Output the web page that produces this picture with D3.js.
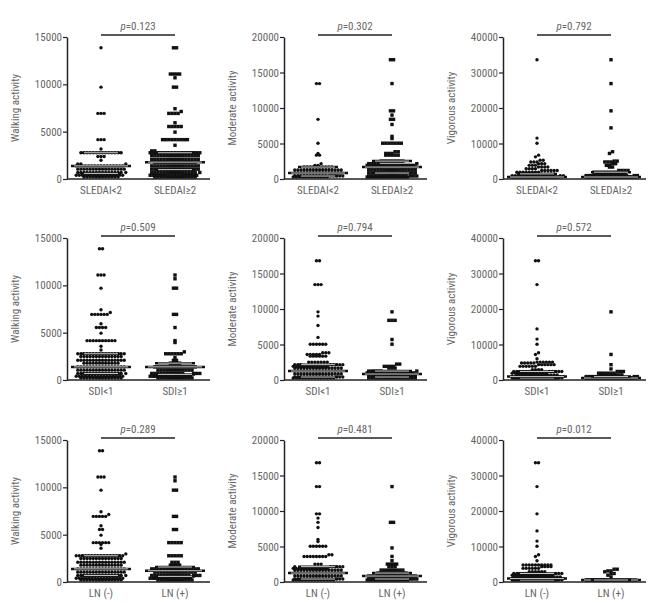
<!DOCTYPE html>
<html>
<head>
<meta charset="utf-8">
<script src="https://cdn.jsdelivr.net/npm/d3@7"></script>
<style>
    body { margin: 0; background: #fff; }
    text { font-family: "Liberation Sans Narrow", "Roboto Condensed", "DejaVu Sans Condensed", sans-serif; font-stretch: condensed; }
</style>
</head>
<body>
<svg id="chart" width="654" height="603"></svg>
<script>
// values as [value, number of dots at that level]
const walkSledaiLow = [[13860,1],[9702,1],[6930,3],[4158,3],[3168,1],[2772,14],[2376,3],[1980,1],[1584,3],[1386,16],[1040,16],[693,16],[396,16],[200,12]];
const walkSledaiHigh = [[13860,2],[11088,4],[10692,1],[9702,2],[7425,1],[7128,1],[6930,4],[5940,1],[5544,5],[4950,1],[4158,9],[3564,1],[2970,2],[2772,17],[2475,16],[2079,16],[1782,14],[1386,16],[1040,16],[693,16],[396,16],[200,14]];
const modSledaiLow = [[13440,2],[8400,1],[5040,1],[3600,1],[3360,2],[2160,1],[1920,2],[1680,10],[1260,16],[840,16],[420,16],[150,12]];
const modSledaiHigh = [[16800,2],[13440,1],[9600,2],[9000,1],[8400,2],[7680,1],[6000,1],[5700,1],[5040,7],[3840,2],[3600,3],[3360,5],[2520,8],[2160,5],[1920,16],[1680,16],[1260,16],[840,16],[420,16],[150,14]];
const vigSledaiLow = [[33600,1],[11520,1],[10080,1],[6720,1],[6240,1],[5280,2],[4800,3],[4320,3],[3840,3],[3360,4],[2880,4],[2400,6],[1920,8],[1440,12],[960,16],[480,16],[160,16]];
const vigSledaiHigh = [[33600,1],[26880,1],[19200,1],[14400,1],[7680,1],[7200,1],[5040,2],[4800,3],[4320,2],[3840,2],[3360,2],[2400,4],[1920,8],[1440,10],[960,16],[480,16],[160,16]];

const walkSdiLow = [[13860,2],[11088,3],[9702,1],[7425,1],[7128,1],[6930,6],[5940,1],[5544,4],[4950,1],[4158,10],[3564,1],[3168,1],[2772,16],[2475,14],[2079,16],[1782,12],[1386,16],[1040,16],[693,16],[396,16],[200,14]];
const walkSdiHigh = [[11088,1],[10692,1],[9702,2],[6930,2],[5544,1],[4158,1],[3960,1],[2970,1],[2772,6],[2376,1],[2079,2],[1782,4],[1386,14],[1040,12],[693,14],[396,14],[200,12]];
const modSdiLow = [[16800,2],[13440,3],[9600,1],[9000,1],[7680,1],[6000,1],[5040,6],[3840,3],[3600,5],[3360,6],[2520,7],[2160,8],[1920,12],[1680,16],[1260,16],[840,16],[420,16],[150,14]];
const modSdiHigh = [[9600,1],[8400,3],[5700,1],[5040,1],[2240,2],[1920,4],[1680,3],[1260,6],[1000,16],[600,16],[200,16]];
const vigSdiLow = [[33600,2],[26880,1],[14400,1],[11520,1],[10080,1],[7680,1],[7200,1],[6000,1],[5040,6],[4800,5],[4320,6],[3840,6],[2880,4],[2400,12],[1920,12],[1440,14],[960,16],[480,16],[160,16]];
const vigSdiHigh = [[19200,1],[7200,1],[4320,1],[3120,1],[2400,3],[1920,6],[1440,8],[960,12],[480,16],[160,16]];

const walkLnNeg = [[13860,2],[11088,3],[9702,1],[7425,1],[7128,1],[6930,5],[5940,1],[5544,2],[4950,1],[4158,6],[3960,1],[3564,1],[2970,1],[2772,16],[2475,14],[2079,16],[1782,14],[1386,16],[1040,16],[693,16],[396,16],[200,14]];
const walkLnPos = [[11088,1],[10692,1],[9702,2],[6930,2],[5544,2],[4158,5],[2772,5],[2079,3],[1782,4],[1386,16],[1040,14],[693,16],[396,14],[200,12]];
const modLnNeg = [[16800,2],[13440,2],[9600,2],[9000,1],[8400,1],[7680,1],[6000,1],[5700,1],[5040,6],[3840,2],[3600,8],[2520,3],[2160,6],[1920,12],[1680,16],[1260,16],[840,16],[420,16],[150,14]];
const modLnPos = [[13440,1],[8400,2],[4800,1],[3600,1],[3000,1],[2520,4],[2160,3],[1680,8],[1260,10],[840,16],[420,16],[150,14]];
const vigLnNeg = [[33600,2],[26880,1],[19200,1],[14400,1],[11520,1],[10080,1],[7680,1],[7200,1],[6000,1],[4800,10],[4320,4],[3840,6],[2880,6],[2400,14],[1920,14],[1440,16],[960,16],[480,16],[160,16]];
const vigLnPos = [[3600,2],[3120,2],[2880,1],[2400,2],[1920,1],[1440,1],[480,8],[160,16]];

// median and quartile lines [q1, median, q3]
const walkStats = { sledai: [[594,1386,2772],[990,1782,2772]], sdi: [[693,1386,2772],[594,1386,1782]], ln: [[693,1386,2772],[594,1188,1584]] };
const modStats = { sledai: [[420,840,1680],[840,1680,2520]], sdi: [[420,1260,2160],[420,840,1260]], ln: [[420,1260,2160],[420,840,1260]] };
const vigStats = { sledai: [[0,480,1440],[0,480,1920]], sdi: [[0,960,2400],[0,480,960]], ln: [[0,960,2400],[0,0,480]] };

const sledaiCats = ["SLEDAI<2", "SLEDAI\u22652"];
const sdiCats = ["SDI<1", "SDI\u22651"];
const lnCats = ["LN (-)", "LN (+)"];

const measures = ["Walking activity", "Moderate activity", "Vigorous activity"];
const yMax = [15000, 20000, 40000];
const yTicks = [[0, 5000, 10000, 15000], [0, 5000, 10000, 15000, 20000], [0, 10000, 20000, 30000, 40000]];

const pSledai = ["0.123", "0.302", "0.792"];
const pSdi = ["0.509", "0.794", "0.572"];
const pLn = ["0.289", "0.481", "0.012"];

// layout
const axisX = [67, 284, 503];
const rowTop = [37, 238, 440];
const plotH = 142, plotW = 143;
const step = 3.1, cap = 17;

const svg = d3.select("#chart");

const rows = [
    { cats: sledaiCats, p: pSledai, key: "sledai", groups: [[walkSledaiLow, walkSledaiHigh], [modSledaiLow, modSledaiHigh], [vigSledaiLow, vigSledaiHigh]] },
    { cats: sdiCats, p: pSdi, key: "sdi", groups: [[walkSdiLow, walkSdiHigh], [modSdiLow, modSdiHigh], [vigSdiLow, vigSdiHigh]] },
    { cats: lnCats, p: pLn, key: "ln", groups: [[walkLnNeg, walkLnPos], [modLnNeg, modLnPos], [vigLnNeg, vigLnPos]] }
];
const stats = [walkStats, modStats, vigStats];

// spread dots sideways in rows; when a row is full the extra dots overlap it
function placeDots(levels, y, cx) {
    const values = [];
    levels.forEach(([v, n]) => { for (let i = 0; i < n; i++) values.push(v); });
    values.sort((a, b) => a - b);
    const base = plotH - 2;
    const rowsUsed = new Map();
    const pts = [];
    values.forEach(v => {
        const py = Math.min(y(v), base);
        const k = Math.max(0, Math.round((base - py) / step));
        if (!rowsUsed.has(k)) rowsUsed.set(k, []);
        const p = { v: v, y: py };
        rowsUsed.get(k).push(p);
        pts.push(p);
    });
    rowsUsed.forEach(list => {
        const n = Math.min(list.length, cap);
        list.forEach((p, i) => {
            const layer = Math.floor(i / cap);
            const j = i % cap;
            p.x = cx + (j - (n - 1) / 2) * step + (layer % 2 ? step / 2 : 0);
        });
    });
    return pts;
}

rows.forEach((row, r) => {
    measures.forEach((m, c) => {
        const g = svg.append("g")
            .attr("transform", "translate(" + axisX[c] + "," + rowTop[r] + ")");

        const y = d3.scaleLinear().domain([0, yMax[c]]).range([plotH, 0]);
        const x = d3.scalePoint().domain(row.cats).range([34, 108]);

        // dots
        row.groups[c].forEach((levels, gi) => {
            const pts = placeDots(levels, y, x(row.cats[gi]));
            if (gi == 0) {
                g.append("g").selectAll("circle")
                    .data(pts)
                    .join("circle")
                    .attr("cx", d => d.x)
                    .attr("cy", d => d.y)
                    .attr("r", 1.7)
                    .attr("fill", "#111");
            } else {
                g.append("g").selectAll("rect")
                    .data(pts)
                    .join("rect")
                    .attr("x", d => d.x - 1.7)
                    .attr("y", d => d.y - 1.7)
                    .attr("width", 3.4)
                    .attr("height", 3.4)
                    .attr("fill", "#111");
            }

            // median and quartiles
            const s = stats[c][row.key][gi];
            const cx = x(row.cats[gi]);
            const widths = [40, 60, 40];
            s.forEach((v, i) => {
                const yy = Math.min(y(v), plotH - 2);
                g.append("line")
                    .attr("x1", cx - widths[i] / 2).attr("x2", cx + widths[i] / 2)
                    .attr("y1", yy).attr("y2", yy)
                    .attr("stroke", "#111").attr("stroke-width", 2.5);
                g.append("line")
                    .attr("x1", cx - widths[i] / 2 + 3).attr("x2", cx + widths[i] / 2 - 3)
                    .attr("y1", yy).attr("y2", yy)
                    .attr("stroke", "#fff").attr("stroke-width", 0.8);
            });
        });

        // y axis
        const ya = g.append("g")
            .call(d3.axisLeft(y).tickValues(yTicks[c]).tickSize(4).tickSizeOuter(0).tickFormat(d3.format("d")));
        ya.select(".domain").attr("stroke", "#222").attr("stroke-width", 1.5);
        ya.selectAll(".tick line").attr("stroke", "#222").attr("stroke-width", 1.2);
        ya.selectAll(".tick text")
            .attr("fill", "#666")
            .style("font-size", "11px")
            .attr("x", -5);

        // x axis line
        g.append("line")
            .attr("x1", 0).attr("x2", plotW)
            .attr("y1", plotH).attr("y2", plotH)
            .attr("stroke", "#222").attr("stroke-width", 1.5);

        g.selectAll(".cat")
            .data(row.cats)
            .join("text")
            .attr("class", "cat")
            .attr("x", d => x(d))
            .attr("y", plotH + 15)
            .attr("text-anchor", "middle")
            .attr("fill", "#666")
            .style("font-size", "11px")
            .text(d => d);

        // y label
        g.append("text")
            .attr("transform", "rotate(-90)")
            .attr("x", -plotH / 2)
            .attr("y", -48)
            .attr("text-anchor", "middle")
            .attr("fill", "#666")
            .style("font-size", "11px")
            .text(m);

        // p value bar
        g.append("line")
            .attr("x1", x(row.cats[0])).attr("x2", x(row.cats[1]))
            .attr("y1", -2).attr("y2", -2)
            .attr("stroke", "#222").attr("stroke-width", 1.3);
        const t = g.append("text")
            .attr("x", (x(row.cats[0]) + x(row.cats[1])) / 2)
            .attr("y", -7)
            .attr("text-anchor", "middle")
            .attr("fill", "#666")
            .style("font-size", "11px");
        t.append("tspan").attr("font-style", "italic").text("p");
        t.append("tspan").text("=" + row.p[c]);
    });
});
</script>
</body>
</html>
